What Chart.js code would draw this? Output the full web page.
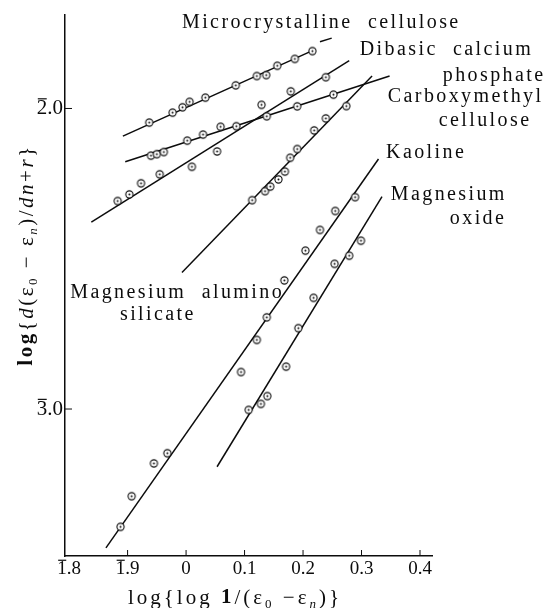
<!DOCTYPE html>
<html>
<head>
<meta charset="utf-8">
<script src="https://cdn.jsdelivr.net/npm/chart.js@4.4.0/dist/chart.umd.min.js"></script>
<style>
  html, body { margin: 0; padding: 0; background: #fff; }
  #wrap { width: 545px; height: 608px; }
</style>
</head>
<body>
<div id="wrap"><canvas id="chart" width="545" height="608"></canvas></div>
<script>
// values are plain negatives: 1̄.8 = -0.2, 2̄.0 = -2.0 and so on
const xTickValues = [-0.2, -0.1, 0, 0.1, 0.2, 0.3, 0.4];
const xTickLabels = ['1\u0304.8', '1\u0304.9', '0', '0.1', '0.2', '0.3', '0.4'];
const yTickValues = [-2, -3];
const yTickLabels = ['2\u0304.0', '3\u0304.0'];

// Microcrystalline cellulose
const microX = [-0.063, -0.023, -0.006, 0.006, 0.033, 0.085, 0.121, 0.137, 0.156, 0.186, 0.216];
const microY = [-2.047, -2.014, -1.996, -1.978, -1.964, -1.923, -1.892, -1.889, -1.858, -1.835, -1.809];
const microFitX = [-0.108, 0.218];
const microFitY = [-2.092, -1.806];
const microDashX = [0.229, 0.249];
const microDashY = [-1.778, -1.766];

// Dibasic calcium phosphate
const dibasicX = [-0.117, -0.097, -0.077, -0.045, 0.010, 0.053, 0.129, 0.179, 0.239];
const dibasicY = [-2.308, -2.286, -2.249, -2.219, -2.194, -2.143, -1.988, -1.943, -1.896];
const dibasicFitX = [-0.162, 0.279];
const dibasicFitY = [-2.378, -1.841];

// Carboxymethyl cellulose
const cmcX = [-0.060, -0.050, -0.038, 0.002, 0.029, 0.059, 0.086, 0.138, 0.190, 0.252];
const cmcY = [-2.157, -2.152, -2.145, -2.107, -2.087, -2.061, -2.059, -2.026, -1.993, -1.954];
const cmcFitX = [-0.104, 0.348];
const cmcFitY = [-2.177, -1.892];

// Magnesium alumino silicate
const mgAlX = [0.113, 0.135, 0.144, 0.158, 0.169, 0.178, 0.190, 0.219, 0.239, 0.274];
const mgAlY = [-2.305, -2.275, -2.260, -2.236, -2.210, -2.164, -2.135, -2.073, -2.033, -1.992];
const mgAlFitX = [-0.007, 0.318];
const mgAlFitY = [-2.546, -1.892];

// Kaoline
const kaolineX = [-0.112, -0.093, -0.055, -0.032, 0.094, 0.121, 0.138, 0.168, 0.204, 0.229, 0.255, 0.289];
const kaolineY = [-3.392, -3.290, -3.181, -3.147, -2.877, -2.770, -2.695, -2.572, -2.473, -2.404, -2.341, -2.295];
const kaolineFitX = [-0.137, 0.329];
const kaolineFitY = [-3.462, -2.168];

// Magnesium oxide
const mgoX = [0.107, 0.128, 0.139, 0.171, 0.192, 0.218, 0.254, 0.279, 0.299];
const mgoY = [-3.003, -2.983, -2.957, -2.859, -2.731, -2.630, -2.517, -2.490, -2.440];
const mgoFitX = [0.053, 0.335];
const mgoFitY = [-3.192, -2.293];

// curve names as printed beside the lines (anchor = left edge, middle of text)
const curveLabels = [
  { text: 'Microcrystalline cellulose', x: -0.007, y: -1.716 },
  { text: 'Dibasic calcium', x: 0.297, y: -1.805 },
  { text: 'phosphate', x: 0.439, y: -1.892 },
  { text: 'Carboxymethyl', x: 0.345, y: -1.962 },
  { text: 'cellulose', x: 0.432, y: -2.042 },
  { text: 'Kaoline', x: 0.342, y: -2.148 },
  { text: 'Magnesium', x: 0.350, y: -2.288 },
  { text: 'oxide', x: 0.451, y: -2.368 },
  { text: 'Magnesium alumino', x: -0.198, y: -2.614 },
  { text: 'silicate', x: -0.113, y: -2.687 }
];

const INK = '#0c0c0c';
const SERIF = '"Liberation Serif", "DejaVu Serif", serif';

// circle with a dot in the middle, like the printed marker
function makeMarker() {
  const c = document.createElement('canvas');
  c.width = 11; c.height = 11;
  const g = c.getContext('2d');
  g.fillStyle = '#fff';
  g.beginPath(); g.arc(5.5, 5.5, 3.6, 0, Math.PI * 2); g.fill();
  g.strokeStyle = INK; g.lineWidth = 1.1;
  g.stroke();
  g.fillStyle = INK;
  g.beginPath(); g.arc(5.5, 5.5, 1, 0, Math.PI * 2); g.fill();
  return c;
}
const marker = makeMarker();

function pts(xs, ys) {
  return xs.map((v, i) => ({ x: v, y: ys[i] }));
}
function pointSet(label, xs, ys) {
  return { label: label, data: pts(xs, ys), showLine: false, pointStyle: marker, pointRadius: 5, order: 0 };
}
function lineSet(label, xs, ys) {
  return { label: label, data: pts(xs, ys), showLine: true, borderColor: INK, borderWidth: 1.5,
           pointRadius: 0, order: 1 };
}

// text with a bar over the first figure (negative characteristic), centred/right as ctx says
function barText(ctx, s, x, y, size) {
  const plain = s.replace('\u0304', '');
  ctx.fillText(plain, x, y);
  if (plain === s) return;
  const w = ctx.measureText(plain).width;
  const w1 = ctx.measureText(plain[0]).width;
  let left = x;
  if (ctx.textAlign === 'center') left = x - w / 2;
  else if (ctx.textAlign === 'right') left = x - w;
  const top = y - size * 0.46;
  ctx.save();
  ctx.lineWidth = 1.2;
  ctx.beginPath();
  ctx.moveTo(left + w1 * 0.1, top);
  ctx.lineTo(left + w1 * 0.95, top);
  ctx.stroke();
  ctx.restore();
}

// draws segments of mixed style centred on (0,0)
function drawRich(ctx, segs, size, spacing) {
  const fontOf = s => (s.italic ? 'italic ' : '') + (s.bold ? 'bold ' : '') +
    (s.sub ? Math.round(size * 0.62) : size) + 'px ' + SERIF;
  ctx.letterSpacing = spacing + 'px';
  let total = 0;
  const widths = segs.map(s => {
    ctx.font = fontOf(s);
    const w = ctx.measureText(s.t).width;
    total += w;
    return w;
  });
  let x = -total / 2;
  segs.forEach((s, i) => {
    ctx.font = fontOf(s);
    ctx.fillText(s.t, x, s.sub ? size * 0.3 : 0);
    x += widths[i];
  });
  ctx.letterSpacing = '0px';
}

const paperText = {
  id: 'paperText',
  afterDraw(chart) {
    const ctx = chart.ctx;
    const xs = chart.scales.x, ys = chart.scales.y;
    const area = chart.chartArea;
    ctx.save();
    ctx.strokeStyle = INK;
    ctx.fillStyle = INK;
    ctx.lineWidth = 1;

    // inward tick marks
    xTickValues.forEach(v => {
      const px = xs.getPixelForValue(v);
      if (px - area.left < 5) return;
      ctx.beginPath(); ctx.moveTo(px, area.bottom); ctx.lineTo(px, area.bottom - 6); ctx.stroke();
    });
    yTickValues.forEach(v => {
      const py = ys.getPixelForValue(v);
      ctx.beginPath(); ctx.moveTo(area.left, py); ctx.lineTo(area.left + 7, py); ctx.stroke();
    });

    // tick labels
    ctx.textBaseline = 'middle';
    ctx.textAlign = 'center';
    ctx.font = '19px ' + SERIF;
    xTickValues.forEach((v, i) => {
      barText(ctx, xTickLabels[i], xs.getPixelForValue(v), area.bottom + 13, 19);
    });
    ctx.textAlign = 'right';
    ctx.font = '21px ' + SERIF;
    yTickValues.forEach((v, i) => {
      barText(ctx, yTickLabels[i], area.left - 2, ys.getPixelForValue(v), 21);
    });

    // curve names
    ctx.textAlign = 'left';
    ctx.font = '20px ' + SERIF;
    ctx.letterSpacing = '2.4px';
    ctx.wordSpacing = '8px';
    curveLabels.forEach(l => {
      ctx.fillText(l.text, xs.getPixelForValue(l.x), ys.getPixelForValue(l.y));
    });
    ctx.letterSpacing = '0px';
    ctx.wordSpacing = '0px';

    // axis titles
    ctx.textAlign = 'left';
    ctx.save();
    ctx.translate(235, 598);
    drawRich(ctx, [
      { t: 'log{log ' }, { t: '1', bold: true }, { t: '/(' }, { t: '\u03b5' }, { t: '0', sub: true },
      { t: ' \u2212' }, { t: '\u03b5' }, { t: 'n', sub: true, italic: true }, { t: ')}' }
    ], 21, 3);
    ctx.restore();

    ctx.save();
    ctx.translate(27, 255);
    ctx.rotate(-Math.PI / 2);
    drawRich(ctx, [
      { t: 'log', bold: true }, { t: '{' }, { t: 'd', italic: true }, { t: '(' }, { t: '\u03b5' },
      { t: '0', sub: true }, { t: ' \u2212 ' }, { t: '\u03b5' }, { t: 'n', sub: true, italic: true },
      { t: ')/' }, { t: 'dn', italic: true }, { t: '+' }, { t: 'r', italic: true }, { t: '}' }
    ], 21, 2.5);
    ctx.restore();

    ctx.restore();
  }
};

new Chart(document.getElementById('chart'), {
  type: 'scatter',
  data: {
    datasets: [
      pointSet('Microcrystalline cellulose', microX, microY),
      pointSet('Dibasic calcium phosphate', dibasicX, dibasicY),
      pointSet('Carboxymethyl cellulose', cmcX, cmcY),
      pointSet('Magnesium alumino silicate', mgAlX, mgAlY),
      pointSet('Kaoline', kaolineX, kaolineY),
      pointSet('Magnesium oxide', mgoX, mgoY),
      lineSet('Microcrystalline fit', microFitX, microFitY),
      lineSet('Microcrystalline extension', microDashX, microDashY),
      lineSet('Dibasic fit', dibasicFitX, dibasicFitY),
      lineSet('Carboxymethyl fit', cmcFitX, cmcFitY),
      lineSet('Alumino silicate fit', mgAlFitX, mgAlFitY),
      lineSet('Kaoline fit', kaolineFitX, kaolineFitY),
      lineSet('Magnesium oxide fit', mgoFitX, mgoFitY)
    ]
  },
  options: {
    responsive: false,
    animation: false,
    devicePixelRatio: 1,
    layout: { padding: { left: 65, top: 15, right: 113, bottom: 52 } },
    plugins: { legend: { display: false }, tooltip: { enabled: false } },
    scales: {
      x: {
        type: 'linear', min: -0.207, max: 0.4205,
        grid: { display: false, drawTicks: false, tickLength: 0 },
        ticks: { display: false },
        border: { display: true, color: INK, width: 1.5 }
      },
      y: {
        type: 'linear', min: -3.489, max: -1.689,
        grid: { display: false, drawTicks: false, tickLength: 0 },
        ticks: { display: false },
        border: { display: true, color: INK, width: 1.5 }
      }
    }
  },
  plugins: [paperText]
});
</script>
</body>
</html>
